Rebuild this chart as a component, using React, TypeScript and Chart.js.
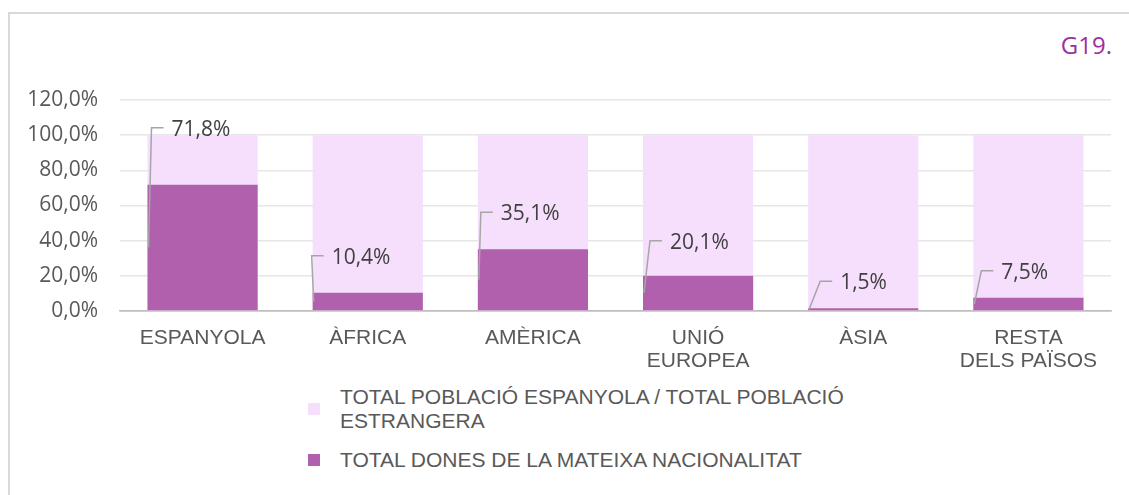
import React, { useEffect, useRef } from 'react';
import { Chart, registerables } from 'chart.js';

Chart.register(...registerables);

// ---------- data ----------
const categories: (string | string[])[] = [
  'ESPANYOLA',
  'ÀFRICA',
  'AMÈRICA',
  ['UNIÓ', 'EUROPEA'],
  'ÀSIA',
  ['RESTA', 'DELS PAÏSOS'],
];
const seriesNames = [
  'TOTAL POBLACIÓ ESPANYOLA / TOTAL POBLACIÓ ESTRANGERA',
  'TOTAL DONES DE LA MATEIXA NACIONALITAT',
];
const totalValues = [100, 100, 100, 100, 100, 100];
const womenValues = [71.8, 10.4, 35.1, 20.1, 1.5, 7.5];
const yMin = 0;
const yMax = 120;
const yStep = 20;
const chartTitle = 'G19.';

// ---------- styles ----------
const LIGHT = '#F5DFFC';
const DARK = '#B160AE';
const LABEL_LIFT = [57, 37, 37, 35, 27, 27];
const LABEL_DX = [24, 19, 23, 27, 32, 28];

const fmt = (v: number) => v.toFixed(1).replace('.', ',') + '%';

const leaderLabels = {
  id: 'leaderLabels',
  afterDatasetsDraw(chart: any) {
    const meta = chart.getDatasetMeta(1);
    const ctx = chart.ctx as CanvasRenderingContext2D;
    ctx.save();
    meta.data.forEach((bar: any, i: number) => {
      const { x, y, base, width } = bar.getProps(['x', 'y', 'base', 'width'], true);
      const left = x - width / 2;
      const midY = (y + base) / 2;
      const ly = y - LABEL_LIFT[i];
      const tx = left + LABEL_DX[i];
      ctx.strokeStyle = '#A6A6A6';
      ctx.lineWidth = 1.5;
      ctx.beginPath();
      ctx.moveTo(left + 1, midY);
      ctx.lineTo(tx - 20, ly);
      ctx.lineTo(tx - 8, ly);
      ctx.stroke();
      ctx.fillStyle = '#404040';
      ctx.font = '21px "Open Sans"';
      ctx.textBaseline = 'middle';
      ctx.textAlign = 'left';
      ctx.fillText(fmt(womenValues[i]), tx, ly + 2);
    });
    ctx.restore();
  },
};

export default function App() {
  const canvasRef = useRef<HTMLCanvasElement | null>(null);

  useEffect(() => {
    if (!canvasRef.current) return;
    const chart = new Chart(canvasRef.current, {
      type: 'bar',
      data: {
        labels: categories as any,
        datasets: [
          {
            label: seriesNames[0],
            data: totalValues,
            backgroundColor: LIGHT,
            grouped: false,
            order: 2,
            barPercentage: 0.667,
            categoryPercentage: 1,
          } as any,
          {
            label: seriesNames[1],
            data: womenValues,
            backgroundColor: DARK,
            grouped: false,
            order: 1,
            barPercentage: 0.667,
            categoryPercentage: 1,
          } as any,
        ],
      },
      options: {
        animation: false,
        responsive: false,
        maintainAspectRatio: false,
        layout: { padding: { top: 100, right: 18, left: 0, bottom: 0 } },
        plugins: {
          legend: { display: false },
          tooltip: { enabled: false },
          title: { display: false },
        },
        scales: {
          x: {
            grid: { display: false, drawTicks: false },
            border: { display: true, color: '#BFBFBF', width: 1.5 },
            ticks: {
              color: '#595959',
              padding: 16,
              font: { family: "'Liberation Sans', Arial, sans-serif", size: 21, lineHeight: 1.08 },
              maxRotation: 0,
              autoSkip: false,
            },
            afterFit(scale: any) {
              scale.height = 74;
            },
          },
          y: {
            min: yMin,
            max: yMax,
            grid: {
              color: (c: any) => (c.tick && c.tick.value === 0 ? '#BFBFBF' : '#E6E6E6'),
              lineWidth: 1.5,
              drawTicks: false,
            },
            border: { display: false },
            ticks: {
              stepSize: yStep,
              color: '#595959',
              padding: 22,
              font: { family: "'Open Sans', sans-serif", size: 21 },
              callback: (v: any) => fmt(Number(v)),
            },
            afterFit(scale: any) {
              scale.width = 120;
            },
          },
        },
      },
      plugins: [leaderLabels],
    });
    return () => chart.destroy();
  }, []);

  const legendColors = [LIGHT, DARK];

  return (
    <div
      style={{
        position: 'fixed',
        left: 0,
        top: 0,
        width: 1129,
        height: 495,
        overflow: 'hidden',
        background: '#fff',
      }}
    >
      <div
        style={{
          position: 'absolute',
          left: 8,
          top: 12,
          width: 1200,
          height: 600,
          borderLeft: '2px solid #D9D9D9',
          borderTop: '2px solid #D9D9D9',
          boxSizing: 'border-box',
        }}
      />
      <div
        style={{
          position: 'absolute',
          right: 17,
          top: 33,
          fontFamily: "'Open Sans', sans-serif",
          fontSize: 24,
          lineHeight: '24px',
          color: '#9B30A0',
        }}
      >
        {chartTitle}
      </div>
      <canvas
        ref={canvasRef}
        width={1129}
        height={385}
        style={{ position: 'absolute', left: 0, top: 0, width: 1129, height: 385 }}
      />
      <div
        style={{
          position: 'absolute',
          left: 308,
          top: 385,
          fontFamily: "'Liberation Sans', Arial, sans-serif",
          fontSize: 21,
          lineHeight: '24px',
          color: '#595959',
        }}
      >
        {seriesNames.map((name, i) => (
          <div
            key={i}
            style={{ display: 'flex', alignItems: 'center', marginBottom: i === 0 ? 15 : 0 }}
          >
            <span
              style={{
                display: 'inline-block',
                width: 12,
                height: 12,
                background: legendColors[i],
                marginRight: 20,
                flex: '0 0 auto',
              }}
            />
            <span style={{ width: 540 }}>{name}</span>
          </div>
        ))}
      </div>
    </div>
  );
}
